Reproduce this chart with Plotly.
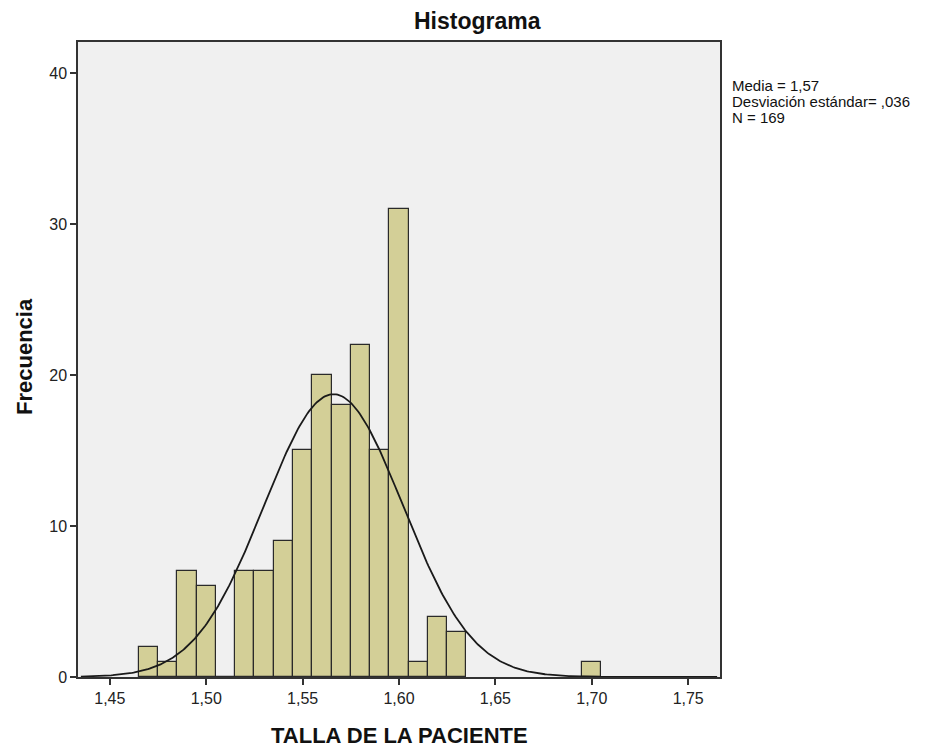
import numpy as np
import plotly.graph_objects as go

# Data (bin centers, width 0.01)
bin_centers = [1.47, 1.48, 1.49, 1.50, 1.51, 1.52, 1.53, 1.54, 1.55, 1.56, 1.57,
               1.58, 1.59, 1.60, 1.61, 1.62, 1.63, 1.70]
frequencies = [2, 1, 7, 6, 0, 7, 7, 9, 15, 20, 18, 22, 15, 31, 1, 4, 3, 1]
bin_width = 0.01
n_total = 169
std_dev = 0.036
x_ticks = [1.45, 1.50, 1.55, 1.60, 1.65, 1.70, 1.75]
y_ticks = [0, 10, 20, 30, 40]
stats_lines = ["Media = 1,57", "Desviación estándar= ,036", "N = 169"]

mean_val = sum(c * f for c, f in zip(bin_centers, frequencies)) / sum(frequencies)

xs = np.linspace(1.435, 1.765, 400)
ys = n_total * bin_width / (std_dev * np.sqrt(2 * np.pi)) * np.exp(-0.5 * ((xs - mean_val) / std_dev) ** 2)

fig = go.Figure()
fig.add_trace(go.Bar(
    x=bin_centers, y=frequencies, width=bin_width,
    marker=dict(color="#d3cf97", line=dict(color="#2a2a2a", width=1.2)),
    showlegend=False,
))
fig.add_trace(go.Scatter(
    x=xs, y=ys, mode="lines",
    line=dict(color="#1a1a1a", width=1.8),
    showlegend=False,
))

font_family = "Liberation Sans, Arial, sans-serif"
PL, PR, PT, PB = 78, 720, 42, 677
PW, PH = PR - PL, PB - PT

annotations = [
    dict(text="<b>Histograma</b>", xref="paper", yref="paper",
         x=(477 - PL) / PW, y=(PB - 21) / PH, xanchor="center", yanchor="middle",
         showarrow=False, font=dict(size=23, color="#111111")),
    dict(text="<b>TALLA DE LA PACIENTE</b>", xref="paper", yref="paper",
         x=0.5, y=(PB - 735) / PH, xanchor="center", yanchor="middle",
         showarrow=False, font=dict(size=22, color="#111111")),
    dict(text="<b>Frecuencia</b>", xref="paper", yref="paper", textangle=-90,
         x=(24 - PL) / PW, y=(PB - 357) / PH, xanchor="center", yanchor="middle",
         showarrow=False, font=dict(size=22, color="#111111")),
]
for i, line in enumerate(stats_lines):
    annotations.append(dict(
        text=line, xref="paper", yref="paper",
        x=(730 - PL) / PW, y=(PB - (85 + 16 * i)) / PH,
        xanchor="left", yanchor="middle", showarrow=False,
        font=dict(size=15, color="#111111")))

fig.update_layout(
    width=935, height=749,
    margin=dict(l=PL, r=935 - PR, t=PT, b=749 - PB),
    paper_bgcolor="white",
    plot_bgcolor="#f0f0f0",
    separators=",.",
    bargap=0,
    font=dict(family=font_family, size=16, color="#222222"),
    xaxis=dict(
        range=[1.4335, 1.7665],
        tickvals=x_ticks,
        tickformat=".2f",
        ticks="outside", ticklen=6, tickwidth=1.5, tickcolor="#333333",
        tickfont=dict(size=16, color="#222222"),
        showgrid=False, zeroline=False,
        showline=True, linecolor="#333333", linewidth=1.5, mirror=True,
    ),
    yaxis=dict(
        range=[0, 42.05],
        tickvals=y_ticks,
        ticks="outside", ticklen=6, tickwidth=1.5, tickcolor="#333333",
        tickfont=dict(size=16, color="#222222"),
        showgrid=False, zeroline=False,
        showline=True, linecolor="#333333", linewidth=1.5, mirror=True,
    ),
    annotations=annotations,
)

fig.write_html("out.html")
